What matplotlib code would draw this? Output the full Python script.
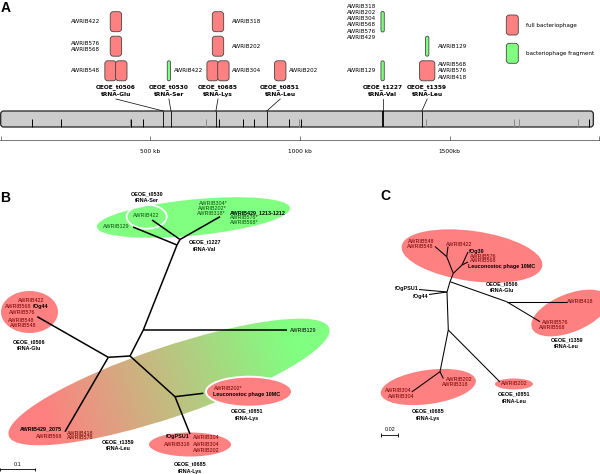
import numpy as np
import matplotlib.pyplot as plt
from matplotlib.patches import Ellipse, FancyBboxPatch
from matplotlib.colors import to_rgb

plt.rcParams['font.family'] = 'DejaVu Sans'

RED = '#ff8080'
GREEN = '#80ff80'
DKRED = '#6e0000'
DKGREEN = '#0a4a0a'

# ---------------- panel A: genome map (kb) ----------------
genome_len = 1980
feature_kb = [106, 203, 432, 435, 476, 685, 730, 811, 847, 962, 997, 1003,
              1421, 1714, 1731, 1930, 1965]
feature_grey = [0, 0, 1, 0, 0, 1, 0, 0, 0, 0, 1, 0, 1, 1, 1, 1, 0]
trna_names = ['OEOE_t0506', 'OEOE_t0530', 'OEOE_t0685', 'OEOE_t0851',
              'OEOE_t1227', 'OEOE_t1359']
trna_types = ['tRNA-Glu', 'tRNA-Ser', 'tRNA-Lys', 'tRNA-Leu', 'tRNA-Val', 'tRNA-Leu']
trna_kb = [543, 569, 719, 889, 1276, 1407]
trna_label_kb = [385, 562, 726, 934, 1276, 1425]

# phage islands: tRNA site, stacking row, kind
phage_site = [0, 0, 0, 0, 1, 2, 2, 2, 2, 3, 4, 4, 5, 5]
phage_row = [1, 1, 2, 3, 1, 1, 1, 2, 3, 1, 1, 3, 1, 2]
phage_kind = ['full', 'full', 'full', 'full', 'frag', 'full', 'full', 'full',
              'full', 'full', 'frag', 'frag', 'full', 'frag']
phage_labels = [
    (0, 3, 'left', 'AWRIB422'),
    (0, 2, 'left', 'AWRIB576\nAWRIB568'),
    (0, 1, 'left', 'AWRIB548'),
    (1, 1, 'right', 'AWRIB422'),
    (2, 3, 'right', 'AWRIB318'),
    (2, 2, 'right', 'AWRIB202'),
    (2, 1, 'right', 'AWRIB304'),
    (3, 1, 'right', 'AWRIB202'),
    (4, 3, 'left', 'AWRIB318\nAWRIB202\nAWRIB304\nAWRIB568\nAWRIB576\nAWRIB429'),
    (4, 1, 'left', 'AWRIB129'),
    (5, 2, 'right', 'AWRIB129'),
    (5, 1, 'right', 'AWRIB568\nAWRIB576\nAWRIB418'),
]

# ---------------- panel B tree ----------------
nodes_B = {
    'a': (180, 239.5), 'b': (177, 245), 'c': (143.3, 330), 'd': (130, 356),
    'e': (108.3, 357.3), 'f': (175, 396.7),
    't0530': (152, 220), 't1227': (220, 216.7), 'r129a': (133, 227),
    'r129b': (286.5, 330), 't0506': (37.3, 316.7), 't1359': (65, 431.7),
    't0851': (203.3, 393.3), 't0685': (190, 434),
}
edges_B = [('a', 't0530'), ('a', 't1227'), ('a', 'b'), ('b', 'r129a'), ('b', 'c'),
           ('c', 'r129b'), ('c', 'd'), ('d', 'e'), ('e', 't0506'), ('e', 't1359'),
           ('d', 'f'), ('f', 't0851'), ('f', 't0685')]
labels_B = [
    ('OEOE_t0530', 146.7, 194, 'center', 'k', 'bold'),
    ('tRNA-Ser', 146.7, 201, 'center', 'k', 'bold'),
    ('AWRIB422', 146.7, 215.5, 'center', DKGREEN, 'normal'),
    ('AWRIB129', 103, 226.7, 'left', DKGREEN, 'normal'),
    ('AWRIB304*', 213, 203.3, 'center', DKGREEN, 'normal'),
    ('AWRIB202*', 212.5, 208.3, 'center', DKGREEN, 'normal'),
    ('AWRIB318*', 211, 213.3, 'center', DKGREEN, 'normal'),
    ('AWRIB429_1213-1212', 230, 212.7, 'left', 'k', 'bold'),
    ('AWRIB576*', 230, 217.7, 'left', DKGREEN, 'normal'),
    ('AWRIB568*', 230, 222.7, 'left', DKGREEN, 'normal'),
    ('OEOE_t1227', 205, 242.3, 'center', 'k', 'bold'),
    ('tRNA-Val', 205, 249, 'center', 'k', 'bold'),
    ('AWRIB422', 31.7, 300.7, 'center', DKRED, 'normal'),
    ('AWRIB568', 4.5, 306.7, 'left', DKRED, 'normal'),
    ('fOg44', 33, 306.7, 'left', 'k', 'bold'),
    ('AWRIB576', 9.3, 312.3, 'left', DKRED, 'normal'),
    ('AWRIB548', 8.3, 321, 'left', DKRED, 'normal'),
    ('AWRIB548', 10, 325.7, 'left', DKRED, 'normal'),
    ('OEOE_t0506', 29.3, 341.7, 'center', 'k', 'bold'),
    ('tRNA-Glu', 29.3, 348.3, 'center', 'k', 'bold'),
    ('AWRIB129', 290, 330, 'left', 'k', 'normal'),
    ('AWRIB202*', 214, 388.3, 'left', DKRED, 'normal'),
    ('Leuconostoc phage 10MC', 213, 394.3, 'left', 'k', 'bold'),
    ('OEOE_t0851', 246.7, 411, 'center', 'k', 'bold'),
    ('tRNA-Lys', 246.7, 418.3, 'center', 'k', 'bold'),
    ('AWRIB429_2075', 62, 429.3, 'right', 'k', 'bold'),
    ('AWRIB568', 62, 436.7, 'right', DKRED, 'normal'),
    ('AWRIB418', 66.7, 433.3, 'left', DKRED, 'normal'),
    ('AWRIB576', 66.7, 437.7, 'left', DKRED, 'normal'),
    ('OEOE_t1359', 118.3, 441.7, 'center', 'k', 'bold'),
    ('tRNA-Leu', 118.3, 449, 'center', 'k', 'bold'),
    ('fOgPSU1', 190, 436.7, 'right', 'k', 'bold'),
    ('AWRIB318', 190, 444.3, 'right', DKRED, 'normal'),
    ('AWRIB304', 192.7, 437.7, 'left', DKRED, 'normal'),
    ('AWRIB304', 192.7, 444.3, 'left', DKRED, 'normal'),
    ('AWRIB202', 192.7, 450.7, 'left', DKRED, 'normal'),
    ('OEOE_t0685', 190, 464, 'center', 'k', 'bold'),
    ('tRNA-Lys', 190, 471, 'center', 'k', 'bold'),
]
# (centre x, centre y, width, height, angle, colour, white rim)
clusters_B = [
    (193.5, 217.5, 194, 36, -5.6, GREEN, False),
    (29.5, 312, 57, 42, 0, RED, False),
    (249, 391.7, 86, 30, 0, RED, True),
    (190, 444.5, 84, 26, 0, RED, True),
]
mixed_B = (169, 382, 338, 70, -18.6)

# ---------------- panel C tree ----------------
nodes_C = {
    'g': (447, 292), 'h': (450, 281.7), 'j': (453.3, 273.3), 'k': (446.7, 256.7),
    'l': (462, 265), 'i': (506.7, 301.7), 'm': (448.3, 330), 'n': (440, 371.7),
    'psu1': (419, 289.5), 'og44': (429, 294.5), 'c548': (435, 246.5),
    'c422': (448, 246.5), 'fog30': (468, 252), 'c10mc': (468, 262),
    'c418': (566.7, 301.7), 'c576': (540, 321.7), 'c304': (411.7, 392),
    'c202a': (443.3, 378.5), 'c202b': (500, 382),
}
edges_C = [('m', 'g'), ('g', 'psu1'), ('g', 'og44'), ('g', 'h'), ('h', 'j'),
           ('h', 'i'), ('i', 'c418'), ('i', 'c576'), ('j', 'k'), ('k', 'c548'),
           ('k', 'c422'), ('j', 'l'), ('l', 'fog30'), ('l', 'c10mc'),
           ('m', 'n'), ('n', 'c304'), ('n', 'c202a'), ('m', 'c202b')]
labels_C = [
    ('AWRIB548', 408.3, 241, 'left', DKRED, 'normal'),
    ('AWRIB548', 406.5, 246, 'left', DKRED, 'normal'),
    ('AWRIB422', 445.7, 244.3, 'left', DKRED, 'normal'),
    ('fOg30', 469, 251.7, 'left', 'k', 'bold'),
    ('AWRIB576', 470, 256.5, 'left', DKRED, 'normal'),
    ('AWRIB568', 470, 260, 'left', DKRED, 'normal'),
    ('Leuconostoc phage 10MC', 468.3, 266.7, 'left', 'k', 'bold'),
    ('fOgPSU1', 418.3, 288.3, 'right', 'k', 'bold'),
    ('fOg44', 428.3, 296.7, 'right', 'k', 'bold'),
    ('OEOE_t0506', 501.7, 284, 'center', 'k', 'bold'),
    ('tRNA-Glu', 501.7, 290.5, 'center', 'k', 'bold'),
    ('AWRIB418', 567.3, 301.7, 'left', DKRED, 'normal'),
    ('AWRIB576', 541.7, 322, 'left', DKRED, 'normal'),
    ('AWRIB568', 539.3, 327.3, 'left', DKRED, 'normal'),
    ('OEOE_t1359', 566.7, 340, 'center', 'k', 'bold'),
    ('tRNA-Leu', 566.7, 347, 'center', 'k', 'bold'),
    ('AWRIB202', 445.7, 379.3, 'left', DKRED, 'normal'),
    ('AWRIB318', 441.7, 384.3, 'left', DKRED, 'normal'),
    ('AWRIB304', 411.7, 391, 'right', DKRED, 'normal'),
    ('AWRIB304', 414.3, 396, 'right', DKRED, 'normal'),
    ('OEOE_t0685', 428.3, 411, 'center', 'k', 'bold'),
    ('tRNA-Lys', 428.3, 418.3, 'center', 'k', 'bold'),
    ('AWRIB202', 514.2, 383.7, 'center', DKRED, 'normal'),
    ('OEOE_t0851', 514.3, 394.3, 'center', 'k', 'bold'),
    ('tRNA-Leu', 514.3, 401.7, 'center', 'k', 'bold'),
]
clusters_C = [
    (472, 256, 142, 50, 8, RED, False),
    (570, 313, 82, 38, -22, RED, False),
    (428.3, 387, 96, 34, -8, RED, False),
    (514, 384, 38, 11, 0, RED, False),
]

# scale bars: x0, x1, y, label
scale_B = (0, 35, 469.3, '0.1')
scale_C = (381, 398.3, 434.7, '0.02')

# ---------------- drawing ----------------
fig = plt.figure(figsize=(6, 4.74), dpi=100)

axA = fig.add_axes([0, 0, 1, 1])
axA.set_xlim(-2.3, 2002.3)
axA.set_ylim(474, 0)
axA.axis('off')
pxkb = 0.2993  # px per kb

row_y = {1: 70.8, 2: 46.2, 3: 21.7}
box_h = 20
box_w = {'full': 38, 'frag': 11}
col = {'full': RED, 'frag': GREEN}
bar_top, bar_h = 111, 16

# genome bar
axA.add_patch(FancyBboxPatch((0, bar_top), genome_len, bar_h,
                             boxstyle='round,pad=0,rounding_size=10',
                             mutation_aspect=pxkb, fc='#cccccc', ec='#222222',
                             lw=0.9, zorder=2))
for kb, grey in zip(feature_kb, feature_grey):
    axA.vlines(kb, bar_top + 8, bar_top + bar_h, color='#888888' if grey else 'k',
               lw=0.7, zorder=3)
for i, kb in enumerate(trna_kb):
    axA.vlines(kb, bar_top, bar_top + bar_h, color='k',
               lw=1.3 if i == 4 else 0.6, zorder=3)
    lx = trna_label_kb[i]
    axA.plot([lx, kb], [99, bar_top], color='k', lw=0.5)
    axA.text(lx, 90.5, trna_names[i] + '\n' + trna_types[i], ha='center',
             va='center', fontsize=4.2, fontweight='bold', linespacing=1.3)

# phage boxes
extent = {}
for s in range(len(trna_kb)):
    for r in (1, 2, 3):
        idx = [j for j in range(len(phage_site))
               if phage_site[j] == s and phage_row[j] == r]
        n = len(idx)
        for k, j in enumerate(idx):
            w = box_w[phage_kind[j]]
            if s == 5 and phage_kind[j] == 'full':
                w = 51
            cx = trna_label_kb[s] + (k - (n - 1) / 2) * (w - 2)
            x0 = cx - w / 2
            h = box_h
            y0 = row_y[r] - h / 2
            if s == 4 and r == 3:
                y0 -= 0.3
                h += 0.6
            rs = min(10, w / 2)
            axA.add_patch(FancyBboxPatch((x0, y0), w, h,
                                         boxstyle='round,pad=0,rounding_size=%g' % rs,
                                         mutation_aspect=pxkb, fc=col[phage_kind[j]],
                                         ec='#444444', lw=0.6, zorder=2))
            lo, hi = extent.get(s, (1e9, -1e9))
            extent[s] = (min(lo, x0), max(hi, x0 + w))

for s, r, side, txt in phage_labels:
    lo, hi = extent[s]
    if side == 'left':
        axA.text(lo - 17, row_y[r], txt, ha='right', va='center', fontsize=4.1,
                 linespacing=1.3)
    else:
        axA.text(hi + 10, row_y[r], txt, ha='left', va='center', fontsize=4.1,
                 linespacing=1.3)

# kb scale
axS = fig.add_axes([0, 1 - 139.5 / 474, 1, 0.0001])
axS.set_xlim(axA.get_xlim())
axS.patch.set_visible(False)
for sp in ('left', 'right', 'top'):
    axS.spines[sp].set_visible(False)
axS.spines['bottom'].set_linewidth(0.5)
axS.spines['bottom'].set_color('#444444')
axS.set_yticks([])
axS.set_xticks([0, 500, 1000, 1500, 2000])
axS.set_xticklabels(['', '500 kb', '1000 kb', '1500kb', ''])
axS.tick_params(axis='x', direction='in', length=3, width=0.5, color='#444444',
                labelsize=4.2, pad=7)

# pixel-space axes for legend and trees
axP = fig.add_axes([0, 0, 1, 1])

# legend
for y0, c, t in [(15, RED, 'full bacteriophage'), (43.3, GREEN, 'bacteriophage fragment')]:
    axP.add_patch(FancyBboxPatch((506.3, y0), 12, 20,
                                 boxstyle='round,pad=0,rounding_size=3',
                                 fc=c, ec='#444444', lw=0.6))
    axP.text(525.7, y0 + 10, t, ha='left', va='center', fontsize=4.1)


def gradient_ellipse(ax, cx, cy, w, h, ang, c0, c1):
    e = Ellipse((cx, cy), w, h, angle=ang, fc='none', ec='none')
    ax.add_patch(e)
    xs = np.linspace(cx - w / 2, cx + w / 2, 500)
    ys = np.linspace(cy - w / 2, cy + w / 2, 500)
    X, Y = np.meshgrid(xs, ys)
    a = np.radians(ang)
    t = ((X - cx) * np.cos(a) + (Y - cy) * np.sin(a)) / w + 0.5
    t = np.clip((t - 0.12) / 0.76, 0, 1)[..., None]
    rgb = (1 - t) * np.array(to_rgb(c0)) + t * np.array(to_rgb(c1))
    im = ax.imshow(rgb, extent=(xs[0], xs[-1], ys[-1], ys[0]), origin='upper',
                   zorder=1, interpolation='bilinear')
    im.set_clip_path(e)


gradient_ellipse(axP, *mixed_B, RED, GREEN)

for clusters in (clusters_B, clusters_C):
    for cx, cy, w, h, ang, c, rim in clusters:
        axP.add_patch(Ellipse((cx, cy), w, h, angle=ang, fc=c,
                              ec='white' if rim else 'none', lw=1.4, zorder=2))
axP.add_patch(Ellipse((146.7, 216.7), 40, 24, fc='none', ec='white', lw=1.3, zorder=2.5))

for nodes, edges, lw in ((nodes_B, edges_B, 1.1), (nodes_C, edges_C, 0.75)):
    for p, q in edges:
        axP.plot([nodes[p][0], nodes[q][0]], [nodes[p][1], nodes[q][1]],
                 color='k', lw=lw, solid_capstyle='butt', zorder=3)

for labels in (labels_B, labels_C):
    for t, x, y, ha, c, wt in labels:
        axP.text(x, y, t, ha=ha, va='center', color=c, fontweight=wt,
                 fontsize=3.9, family='Liberation Sans', zorder=4)

for x0, x1, y, t in (scale_B, scale_C):
    axP.plot([x0, x1], [y, y], color='k', lw=0.6)
    axP.vlines([x0, x1], y - 1.8, y + 1.8, color='k', lw=0.6)
    axP.text((x0 + x1) / 2, y - 5, t, ha='center', va='center', fontsize=3.9,
             family='Liberation Sans')

for t, x, y in (('A', 1, 0.5), ('B', 0.5, 190.5), ('C', 380, 189.5)):
    axP.text(x, y, t, ha='left', va='top', fontsize=10, fontweight='bold',
             family='Liberation Sans')

axP.set_aspect('auto')
axP.set_xlim(0, 600)
axP.set_ylim(474, 0)
axP.axis('off')

fig.savefig('out.png', dpi=100)
